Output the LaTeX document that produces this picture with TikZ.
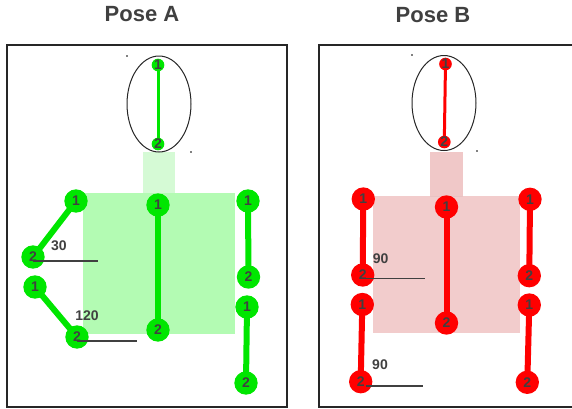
\documentclass[tikz,border=0pt]{standalone}
\usepackage{fontspec}
\setmainfont{Liberation Sans}
\pgfdeclarelayer{bg}
\pgfdeclarelayer{mid}
\pgfsetlayers{bg,mid,main}
\definecolor{jgreen}{HTML}{00E600}
\definecolor{jred}{HTML}{FF0000}
\definecolor{bodyA}{HTML}{B3FBB3}
\definecolor{neckA}{HTML}{D5FAD5}
\definecolor{bodyB}{HTML}{F2CCCC}
\definecolor{neckB}{HTML}{F0C8C8}
\definecolor{txt}{HTML}{404040}
\tikzset{
  jointbase/.style={circle, inner sep=0pt, text=txt, font=\bfseries\fontsize{10.5}{12}\selectfont},
  bigA/.style={jointbase, fill=jgreen, minimum size=17.5pt},
  smallA/.style={jointbase, fill=jgreen, minimum size=9.5pt},
  bigB/.style={jointbase, fill=jred, minimum size=17.5pt},
  smallB/.style={jointbase, fill=jred, minimum size=9.5pt},
  limbA/.style={draw=jgreen, line width=4.5pt},
  limbB/.style={draw=jred, line width=4.5pt},
  headlimbA/.style={draw=jgreen, line width=2.25pt},
  headlimbB/.style={draw=jred, line width=2.25pt},
  anglelbl/.style={text=txt, font=\bfseries\fontsize{10.5}{12}\selectfont, inner sep=0pt},
  angleline/.style={draw=txt, line width=1.1pt},
  frame/.style={draw=black!85, line width=1pt},
  headshape/.style={draw=black!85, line width=0.75pt},
  title/.style={text=txt, font=\bfseries\fontsize{16.5}{19}\selectfont},
  tinydot/.style={fill=black, circle, inner sep=0pt, minimum size=1.2pt}
}
\begin{document}
\begin{tikzpicture}[x=0.75pt, y=-0.75pt]
\useasboundingbox (0,0) rectangle (572,408);

% titles
\node[title] (tA) at (142,14) {Pose A};
\node[title] (tB) at (433,15) {Pose B};

% frames
\draw[frame] (7,45) rectangle (287,407);
\draw[frame] (574,45) -- (319,45) -- (319,407) -- (574,407);

% ---------- Pose A ----------
\begin{pgfonlayer}{bg}
  \fill[neckA] (143,152) rectangle (175,193);
  \fill[bodyA] (83,193) rectangle (235,334);
\end{pgfonlayer}
\draw[headshape] (159,104) ellipse [x radius=32, y radius=48];
\node[tinydot] (dA1) at (127,56) {};
\node[tinydot] (dA2) at (191,152) {};

\node[smallA] (ah1) at (158,65) {1};
\node[smallA] (ah2) at (158,144) {2};
\node[bigA] (at1) at (158,205) {1};
\node[bigA] (at2) at (158,330) {2};
\node[bigA] (alu1) at (76,201) {1};
\node[bigA] (alu2) at (33,257) {2};
\node[bigA] (all1) at (35,287) {1};
\node[bigA] (all2) at (77,337) {2};
\node[bigA] (aru1) at (248,201) {1};
\node[bigA] (aru2) at (248.5,277) {2};
\node[bigA] (arl1) at (247,307) {1};
\node[bigA] (arl2) at (246,383) {2};

\begin{pgfonlayer}{mid}
  \draw[headlimbA] (ah1.center) -- (ah2.center);
  \draw[limbA] (at1.center) -- (at2.center);
  \draw[limbA] (alu1.center) -- (alu2.center);
  \draw[limbA] (all1.center) -- (all2.center);
  \draw[limbA] (aru1.center) -- (aru2.center);
  \draw[limbA] (arl1.center) -- (arl2.center);
\end{pgfonlayer}

\node[anglelbl] (la1) at (59,246) {30};
\coordinate (la1s) at (33,261);
\coordinate (la1e) at (98,261);
\draw[angleline] (la1s) -- (la1e);
\node[anglelbl] (la2) at (87,316) {120};
\coordinate (la2s) at (77,341);
\coordinate (la2e) at (137,341);
\draw[angleline] (la2s) -- (la2e);

% ---------- Pose B ----------
\begin{pgfonlayer}{bg}
  \fill[bodyB] (373,196) rectangle (520,333);
  \fill[neckB] (430,152) rectangle (463,197);
  \fill[bodyB!92!black!40!neckB] (430,195.5) rectangle (463,197);
\end{pgfonlayer}
\draw[headshape] (444,103) ellipse [x radius=32, y radius=47.5];
\node[tinydot] (dB1) at (412,55) {};
\node[tinydot] (dB2) at (477,151) {};

\node[smallB] (bh1) at (445.5,64) {1};
\node[smallB] (bh2) at (444.3,142) {2};
\node[bigB] (bt1) at (446.5,207) {1};
\node[bigB] (bt2) at (446.5,323) {2};
\node[bigB] (blu1) at (363.3,199) {1};
\node[bigB] (blu2) at (362.7,275) {2};
\node[bigB] (bll1) at (362.3,304.5) {1};
\node[bigB] (bll2) at (360.7,381.7) {2};
\node[bigB] (bru1) at (530,199.3) {1};
\node[bigB] (bru2) at (529.3,275.7) {2};
\node[bigB] (brl1) at (529.3,305) {1};
\node[bigB] (brl2) at (527.3,382.3) {2};

\begin{pgfonlayer}{mid}
  \draw[headlimbB] (bh1.center) -- (bh2.center);
  \draw[limbB] (bt1.center) -- (bt2.center);
  \draw[limbB] (blu1.center) -- (blu2.center);
  \draw[limbB] (bll1.center) -- (bll2.center);
  \draw[limbB] (bru1.center) -- (bru2.center);
  \draw[limbB] (brl1.center) -- (brl2.center);
\end{pgfonlayer}

\node[anglelbl] (lb1) at (380.7,259) {90};
\coordinate (lb1s) at (363,278.7);
\coordinate (lb1e) at (425,278.7);
\draw[angleline] (lb1s) -- (lb1e);
\node[anglelbl] (lb2) at (380,365) {90};
\coordinate (lb2s) at (366,386);
\coordinate (lb2e) at (423,386);
\draw[angleline] (lb2s) -- (lb2e);
\end{tikzpicture}
\end{document}
